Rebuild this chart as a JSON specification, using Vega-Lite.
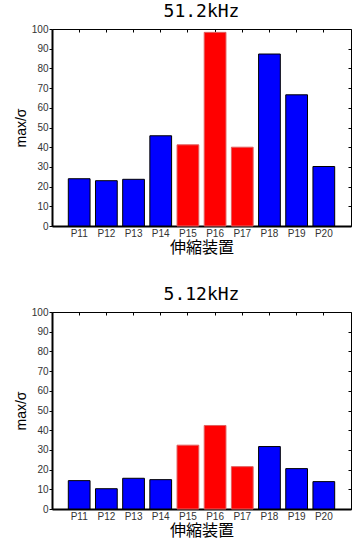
{
  "$schema": "https://vega.github.io/schema/vega-lite/v6.json",
  "padding": {"left": 13, "top": 2, "right": 0, "bottom": 0},
  "background": "white",
  "datasets": {
    "f51": [
      {"name": "P11", "value": 24.0, "highlight": "no"},
      {"name": "P12", "value": 23.0, "highlight": "no"},
      {"name": "P13", "value": 23.7, "highlight": "no"},
      {"name": "P14", "value": 45.8, "highlight": "no"},
      {"name": "P15", "value": 41.2, "highlight": "yes"},
      {"name": "P16", "value": 98.3, "highlight": "yes"},
      {"name": "P17", "value": 40.0, "highlight": "yes"},
      {"name": "P18", "value": 87.3, "highlight": "no"},
      {"name": "P19", "value": 66.6, "highlight": "no"},
      {"name": "P20", "value": 30.2, "highlight": "no"}
    ],
    "f512": [
      {"name": "P11", "value": 14.4, "highlight": "no"},
      {"name": "P12", "value": 10.3, "highlight": "no"},
      {"name": "P13", "value": 15.6, "highlight": "no"},
      {"name": "P14", "value": 14.9, "highlight": "no"},
      {"name": "P15", "value": 32.4, "highlight": "yes"},
      {"name": "P16", "value": 42.4, "highlight": "yes"},
      {"name": "P17", "value": 21.5, "highlight": "yes"},
      {"name": "P18", "value": 31.7, "highlight": "no"},
      {"name": "P19", "value": 20.5, "highlight": "no"},
      {"name": "P20", "value": 13.9, "highlight": "no"}
    ]
  },
  "bounds": "flush",
  "spacing": 86,
  "config": {
    "view": {"stroke": "black", "strokeWidth": 1},
    "axis": {
      "labelFont": "Liberation Sans",
      "labelFontSize": 10,
      "labelColor": "#333333",
      "domainColor": "black",
      "tickColor": "black",
      "grid": false,
      "titleColor": "black",
      "titleFontWeight": "normal"
    },
    "title": {"font": "DejaVu Sans Mono", "fontSize": 18, "fontWeight": "normal", "color": "black", "offset": 3}
  },
  "vconcat": [
    {
      "data": {"name": "f51"},
      "title": {"text": "51.2kHz"},
      "width": 299,
      "height": 197,
      "layer": [
        {
          "mark": {"type": "bar", "strokeWidth": 1},
          "encoding": {
            "x": {
              "field": "name", "type": "ordinal",
              "scale": {"domain": ["P11","P12","P13","P14","P15","P16","P17","P18","P19","P20"], "paddingInner": 0.2, "paddingOuter": 0.6},
              "axis": {"orient": "bottom", "title": "伸縮装置", "titleFont": "Noto Sans CJK JP", "titleFontSize": 16, "titlePadding": 1, "labelAngle": 0, "labelPadding": 2, "ticks": false, "domainWidth": 2}
            },
            "y": {
              "field": "value", "type": "quantitative",
              "scale": {"domain": [0, 100], "nice": false},
              "axis": {"orient": "left", "title": "max/σ", "titleFont": "Liberation Sans", "titleFontSize": 14, "titlePadding": 3, "values": [0,10,20,30,40,50,60,70,80,90,100], "tickSize": 3, "labelPadding": 1, "domainWidth": 2}
            },
            "color": {"field": "highlight", "type": "nominal", "scale": {"domain": ["no", "yes"], "range": ["#0000ff", "#ff0000"]}, "legend": null},
            "stroke": {"field": "highlight", "type": "nominal", "scale": {"domain": ["no", "yes"], "range": ["#000000", "#e06060"]}, "legend": null}
          }
        },
        {
          "mark": {"type": "bar", "opacity": 0},
          "encoding": {
            "x": {"field": "name", "type": "ordinal", "axis": {"orient": "top", "title": null, "labels": false, "tickSize": -3, "domain": false}},
            "y": {"field": "value", "type": "quantitative", "axis": {"orient": "right", "title": null, "labels": false, "values": [0,10,20,30,40,50,60,70,80,90,100], "tickSize": -3, "domain": false}}
          }
        }
      ],
      "resolve": {"axis": {"x": "independent", "y": "independent"}}
    },
    {
      "data": {"name": "f512"},
      "title": {"text": "5.12kHz"},
      "width": 299,
      "height": 197,
      "layer": [
        {
          "mark": {"type": "bar", "strokeWidth": 1},
          "encoding": {
            "x": {
              "field": "name", "type": "ordinal",
              "scale": {"domain": ["P11","P12","P13","P14","P15","P16","P17","P18","P19","P20"], "paddingInner": 0.2, "paddingOuter": 0.6},
              "axis": {"orient": "bottom", "title": "伸縮装置", "titleFont": "Noto Sans CJK JP", "titleFontSize": 16, "titlePadding": 1, "labelAngle": 0, "labelPadding": 2, "ticks": false, "domainWidth": 2}
            },
            "y": {
              "field": "value", "type": "quantitative",
              "scale": {"domain": [0, 100], "nice": false},
              "axis": {"orient": "left", "title": "max/σ", "titleFont": "Liberation Sans", "titleFontSize": 14, "titlePadding": 3, "values": [0,10,20,30,40,50,60,70,80,90,100], "tickSize": 3, "labelPadding": 1, "domainWidth": 2}
            },
            "color": {"field": "highlight", "type": "nominal", "scale": {"domain": ["no", "yes"], "range": ["#0000ff", "#ff0000"]}, "legend": null},
            "stroke": {"field": "highlight", "type": "nominal", "scale": {"domain": ["no", "yes"], "range": ["#000000", "#e06060"]}, "legend": null}
          }
        },
        {
          "mark": {"type": "bar", "opacity": 0},
          "encoding": {
            "x": {"field": "name", "type": "ordinal", "axis": {"orient": "top", "title": null, "labels": false, "tickSize": -3, "domain": false}},
            "y": {"field": "value", "type": "quantitative", "axis": {"orient": "right", "title": null, "labels": false, "values": [0,10,20,30,40,50,60,70,80,90,100], "tickSize": -3, "domain": false}}
          }
        }
      ],
      "resolve": {"axis": {"x": "independent", "y": "independent"}}
    }
  ]
}
